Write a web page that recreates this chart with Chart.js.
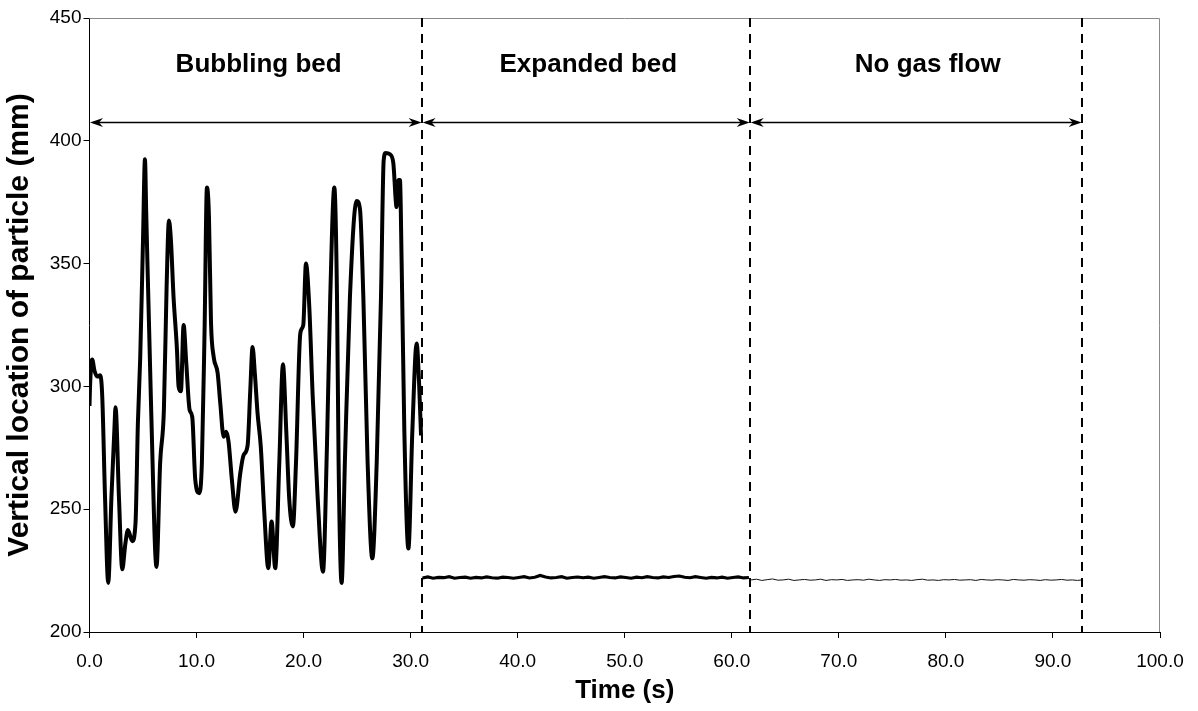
<!DOCTYPE html>
<html><head><meta charset="utf-8">
<script src="https://cdn.jsdelivr.net/npm/chart.js@4/dist/chart.umd.min.js"></script>
<style>html,body{margin:0;padding:0;background:#fff;}canvas{display:block;}</style>
</head><body>
<canvas id="c" width="1198" height="711"></canvas>
<script>
// ---- data ----
const bubblingTime = [0.00,0.05,0.25,0.46,0.72,1.00,1.19,1.45,1.75,2.05,
 2.33,2.43,2.75,3.06,3.35,3.59,3.99,4.30,4.52,4.74,
 5.00,5.18,5.30,5.77,6.26,6.60,6.95,7.20,7.42,7.60,
 7.85,8.17,8.32,8.54,8.79,9.04,9.35,9.60,9.88,10.25,
 10.50,10.75,10.97,11.16,11.35,11.60,11.97,12.22,12.53,12.77,
 12.99,13.30,13.64,14.08,14.39,14.77,15.02,15.23,15.45,15.70,
 16.00,16.33,16.70,17.01,17.35,17.73,18.07,18.38,18.66,19.00,
 19.29,19.69,19.97,20.22,20.53,20.85,21.31,21.81,22.18,22.49,
 22.87,23.12,23.27,23.55,23.87,24.33,24.95,25.27,25.58,25.98,
 26.42,26.83,27.23,27.48,27.66,28.07,28.38,28.69,28.85,29.00,
 29.16,29.41,29.79,30.16,30.56,30.79,30.97];
const bubblingHeight = [292,300,311,306.5,304,304.5,296,255,220,255,
 283,291.5,255,225.5,236,241.5,237,244.5,285,312,
 360,392.5,370.5,289,226.5,269,290.5,340,367.5,360,
 336.5,315,300,298,325,309.5,290.5,287.5,262,256.5,
 269,323,381,369,326,312,305.5,293,279.5,281.5,
 277.5,262,249,264.5,272,276,298.5,316,305,289,
 275.5,248.5,226,245,226,269,309,282,254,243,
 269,321.5,325,350,332.5,296,255,224.5,275.5,336.5,
 381,336.5,269,220,271.5,336.5,375.5,372,336.5,269,
 230,269,336.5,392,395,394.5,391,373,384,384,
 350,282,234,282,317.5,301,280];

const expandedTime = [31.1,31.6,32.1,32.6,33.1,33.6,34.1,34.6,35.1,35.6,
 36.1,36.6,37.1,37.6,38.1,38.6,39.1,39.6,40.1,40.6,
 41.1,41.6,42.1,42.6,43.1,43.6,44.1,44.6,45.1,45.6,
 46.1,46.6,47.1,47.6,48.1,48.6,49.1,49.6,50.1,50.6,
 51.1,51.6,52.1,52.6,53.1,53.6,54.1,54.6,55.1,55.6,
 56.1,56.6,57.1,57.6,58.1,58.6,59.1,59.6,60.1,60.6,
 61.1,61.6];
const expandedHeight = [222.0,222.4,221.9,222.2,222.1,222.5,221.9,222.2,222.3,221.9,
 222.2,222.0,222.4,222.1,221.9,222.3,222.2,221.9,222.2,222.5,
 222.0,222.3,223.0,222.4,222.0,222.2,222.5,221.9,222.2,222.4,
 222.1,222.3,221.9,222.2,222.5,222.2,222.0,222.4,222.2,221.9,
 222.3,222.1,222.5,222.2,222.0,222.4,222.2,222.6,222.8,222.3,
 222.1,222.5,222.2,221.9,222.2,222.0,222.3,221.9,222.2,222.4,
 222.0,222.2];

const noGasTime = [61.8,62.3,62.8,63.3,63.8,64.3,64.8,65.3,65.8,66.3,
 66.8,67.3,67.8,68.3,68.8,69.3,69.8,70.3,70.8,71.3,
 71.8,72.3,72.8,73.3,73.8,74.3,74.8,75.3,75.8,76.3,
 76.8,77.3,77.8,78.3,78.8,79.3,79.8,80.3,80.8,81.3,
 81.8,82.3,82.8,83.3,83.8,84.3,84.8,85.3,85.8,86.3,
 86.8,87.3,87.8,88.3,88.8,89.3,89.8,90.3,90.8,91.3,
 91.8,92.3,92.7];
const noGasHeight = [221.2,221.5,221.0,221.3,221.6,221.1,221.2,221.5,221.0,221.2,
 221.4,221.1,221.2,221.5,221.0,221.3,221.2,221.4,221.0,221.2,
 221.3,221.1,221.5,221.2,221.0,221.3,221.2,221.4,221.1,221.2,
 221.0,221.3,221.5,221.1,221.2,221.0,221.3,221.2,221.4,221.1,
 221.2,221.3,221.0,221.4,221.2,221.1,221.3,221.2,221.0,221.4,
 221.2,221.1,221.3,221.2,221.0,221.3,221.1,221.2,221.4,221.1,
 221.2,221.0,221.2];

const phaseStart = [0, 31.07, 61.72];
const phaseEnd = [31.07, 61.72, 92.73];
const phaseLabels = ['Bubbling bed', 'Expanded bed', 'No gas flow'];
const phaseLabelTime = [15.8, 46.6, 78.3];
const phaseLabelLevel = 428;
const arrowLevel = 407.5;
const dividerTimes = [31.07, 61.72, 92.73];

const xTicks = [0,10,20,30,40,50,60,70,80,90,100];
const yTicks = [200,250,300,350,400,450];

// ---- chart ----
const FONT = "'Liberation Sans', Arial, Helvetica, sans-serif";
const pts = (t, v) => t.map((x, i) => ({x: x, y: v[i]}));

function arrowHead(ctx, x, y, dir) {
  ctx.beginPath();
  ctx.moveTo(x, y);
  ctx.lineTo(x - dir * 13, y - 4.5);
  ctx.lineTo(x - dir * 9, y);
  ctx.lineTo(x - dir * 13, y + 4.5);
  ctx.closePath();
  ctx.fill();
}

const overlay = {
  id: 'overlay',
  beforeDatasetsDraw(chart) {
    const {ctx, chartArea: a} = chart;
    ctx.save();
    ctx.strokeStyle = '#8a8a8a';
    ctx.lineWidth = 1;
    ctx.beginPath();
    ctx.moveTo(a.left, Math.round(a.top) + 0.5);
    ctx.lineTo(Math.round(a.right) - 0.5, Math.round(a.top) + 0.5);
    ctx.lineTo(Math.round(a.right) - 0.5, a.bottom);
    ctx.stroke();
    ctx.restore();
  },
  afterDatasetsDraw(chart) {
    const {ctx, chartArea: a, scales: {x, y}} = chart;
    ctx.save();
    ctx.strokeStyle = '#000';
    ctx.lineWidth = 2;
    ctx.setLineDash([9, 7]);
    dividerTimes.forEach(t => {
      const px = Math.round(x.getPixelForValue(t));
      ctx.beginPath();
      ctx.moveTo(px, a.top);
      ctx.lineTo(px, a.bottom);
      ctx.stroke();
    });
    ctx.setLineDash([]);
    const ay = Math.round(y.getPixelForValue(arrowLevel)) + 0.5;
    ctx.lineWidth = 1.4;
    ctx.fillStyle = '#000';
    phaseStart.forEach((s, i) => {
      const x0 = x.getPixelForValue(s), x1 = x.getPixelForValue(phaseEnd[i]);
      ctx.beginPath();
      ctx.moveTo(x0 + 4, ay);
      ctx.lineTo(x1 - 4, ay);
      ctx.stroke();
      arrowHead(ctx, x0 + 0.5, ay, -1);
      arrowHead(ctx, x1 - 0.5, ay, 1);
    });
    ctx.font = "bold 26px " + FONT;
    ctx.textAlign = 'center';
    ctx.textBaseline = 'alphabetic';
    phaseLabels.forEach((s, i) => {
      ctx.fillText(s, x.getPixelForValue(phaseLabelTime[i]), y.getPixelForValue(phaseLabelLevel));
    });
    ctx.restore();
  }
};

new Chart(document.getElementById('c'), {
  type: 'line',
  data: {
    datasets: [
      {data: pts(bubblingTime, bubblingHeight), borderColor: '#000', borderWidth: 4,
       pointRadius: 0, cubicInterpolationMode: 'monotone', fill: false},
      {data: pts(expandedTime, expandedHeight), borderColor: '#000', borderWidth: 3.2,
       pointRadius: 0, tension: 0, fill: false},
      {data: pts(noGasTime, noGasHeight), borderColor: '#111', borderWidth: 1,
       pointRadius: 0, tension: 0, fill: false}
    ]
  },
  options: {
    responsive: false,
    animation: false,
    events: [],
    layout: {padding: {top: 18, right: 38, left: 0, bottom: 0}},
    plugins: {legend: {display: false}, tooltip: {enabled: false}},
    scales: {
      x: {
        type: 'linear', min: 0, max: 100,
        afterBuildTicks(s) { s.ticks = xTicks.map(v => ({value: v})); },
        afterFit(s) { s.height = 79; },
        ticks: {callback: v => Number(v).toFixed(1), color: '#000',
                font: {family: FONT, size: 19}, padding: 12, maxRotation: 0, autoSkip: false},
        grid: {display: true, drawOnChartArea: false, drawTicks: true, tickLength: 6, color: '#000', lineWidth: 1},
        border: {display: true, color: '#000', width: 1},
        title: {display: true, text: 'Time (s)', color: '#000',
                font: {family: FONT, size: 26, weight: 'bold'}, padding: {top: 0, bottom: 5}}
      },
      y: {
        type: 'linear', min: 200, max: 450,
        afterBuildTicks(s) { s.ticks = yTicks.map(v => ({value: v})); },
        afterFit(s) { s.width = 89.5; },
        ticks: {callback: v => String(v), color: '#000',
                font: {family: FONT, size: 19}, padding: 2},
        grid: {display: true, drawOnChartArea: false, drawTicks: true, tickLength: 6, color: '#000', lineWidth: 1},
        border: {display: true, color: '#000', width: 1},
        title: {display: true, text: 'Vertical location of particle (mm)', color: '#000',
                font: {family: FONT, size: 30, weight: 'bold'}, padding: {top: 2, bottom: 0}}
      }
    }
  },
  plugins: [overlay]
});
</script>
</body></html>
